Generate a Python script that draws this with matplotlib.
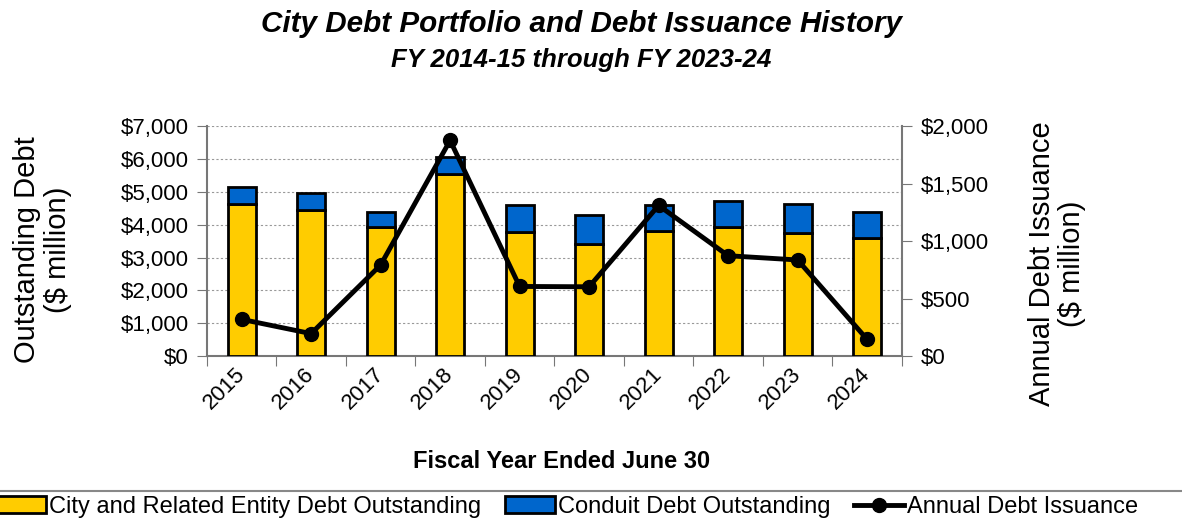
import matplotlib.pyplot as plt
from matplotlib.lines import Line2D
import numpy as np

years = ["2015", "2016", "2017", "2018", "2019", "2020", "2021", "2022", "2023", "2024"]
city_debt = [4640, 4450, 3930, 5550, 3790, 3420, 3810, 3920, 3740, 3590]
conduit_debt = [495, 500, 470, 510, 795, 880, 795, 805, 890, 810]
issuance = [320, 196, 792, 1875, 606, 603, 1310, 873, 836, 146]

plt.rcParams["font.family"] = ["Liberation Sans", "DejaVu Sans"]


def main():
    fig = plt.figure(figsize=(11.82, 5.23), dpi=100)
    ax = fig.add_axes([0.175, 0.319, 0.588, 0.44])
    x = np.arange(len(years))

    ax.bar(x, city_debt, width=0.4, color="#FFCC00", edgecolor="black",
           linewidth=2, label="City and Related Entity Debt Outstanding", zorder=3)
    ax.bar(x, conduit_debt, width=0.4, bottom=city_debt, color="#0066CC",
           edgecolor="black", linewidth=2, label="Conduit Debt Outstanding", zorder=3)

    ax.set_xlim(-0.5, len(years) - 0.5)
    ax.set_ylim(0, 7000)
    ax.set_yticks(range(0, 7001, 1000))
    ax.set_yticklabels(["${:,}".format(v) for v in range(0, 7001, 1000)], fontsize=16)
    ax.yaxis.grid(True, linestyle=(0, (2, 2)), color="#999999", linewidth=0.8, zorder=0)
    ax.set_xticks(np.arange(-0.5, len(years), 1))
    ax.set_xticklabels([])
    ax.set_xticks(x, minor=True)
    ax.set_xticklabels(years, minor=True, rotation=45, fontsize=16,
                       ha="right", va="center", rotation_mode="anchor")
    ax.tick_params(axis="x", which="minor", length=0, pad=11)
    ax.tick_params(axis="x", which="major", length=7, color="#777777")
    ax.tick_params(axis="y", length=7, pad=6, color="#777777")
    for s in ["top", "right"]:
        ax.spines[s].set_visible(False)
    for s in ["left", "bottom"]:
        ax.spines[s].set_color("#777777")
        ax.spines[s].set_linewidth(1.5)

    ax2 = ax.twinx()
    ax2.plot(x, issuance, color="black", linewidth=3.5, marker="o", markersize=10,
             label="Annual Debt Issuance", zorder=4)
    ax2.set_ylim(0, 2000)
    ax2.set_yticks(range(0, 2001, 500))
    ax2.set_yticklabels(["${:,}".format(v) for v in range(0, 2001, 500)], fontsize=16)
    ax2.tick_params(axis="y", length=7, pad=7, color="#777777")
    for s in ["top", "left", "bottom"]:
        ax2.spines[s].set_visible(False)
    ax2.spines["right"].set_color("#777777")
    ax2.spines["right"].set_linewidth(1.5)

    fig.text(0.036, 0.522, "Outstanding Debt\n($ million)", rotation=90, ha="center",
             va="center", fontsize=21, linespacing=1.1)
    fig.text(0.894, 0.495, "Annual Debt Issuance\n($ million)", rotation=90, ha="center",
             va="center", fontsize=21, linespacing=1.1)
    fig.text(0.475, 0.117, "Fiscal Year Ended June 30", ha="center", va="center",
             fontsize=17, fontweight="bold")

    fig.text(0.492, 0.955, "City Debt Portfolio and Debt Issuance History", ha="center",
             va="center", fontsize=21.3, fontweight="bold", style="italic")
    fig.text(0.492, 0.885, "FY 2014-15 through FY 2023-24", ha="center", va="center",
             fontsize=18.5, fontweight="bold", style="italic")

    h1, l1 = ax.get_legend_handles_labels()
    h2, l2 = ax2.get_legend_handles_labels()
    fig.legend(h1 + h2, l1 + l2, loc="center", bbox_to_anchor=(0.48, 0.031),
               ncol=3, fontsize=17, frameon=False,
               handlelength=2.1, handletextpad=0.15, columnspacing=1.0,
               borderpad=0.3)
    # legend box runs past the figure edges, only its top border shows
    fig.add_artist(Line2D([0, 1], [0.062, 0.062], transform=fig.transFigure,
                          color="#888888", linewidth=1.5))

    fig.savefig("out.png", dpi=100)


if __name__ == "__main__":
    main()
